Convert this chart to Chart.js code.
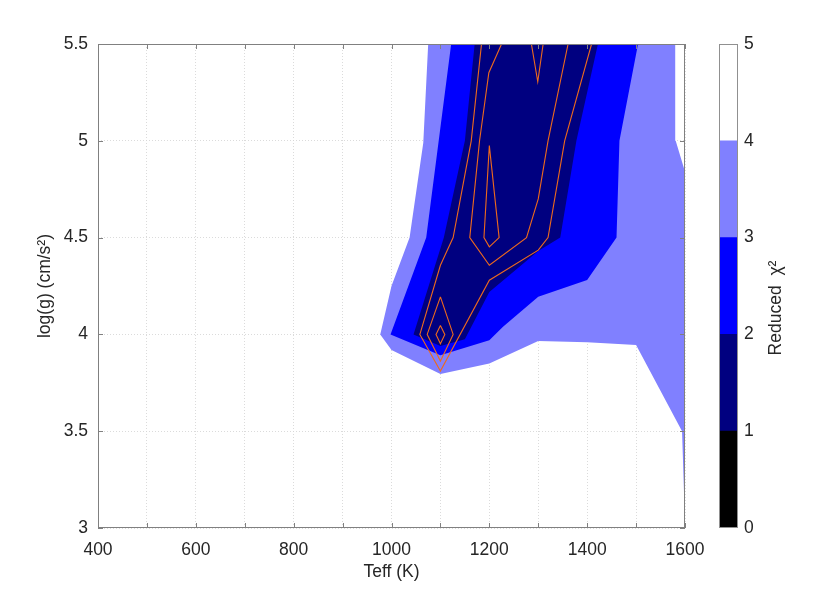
<!DOCTYPE html>
<html>
<head>
<meta charset="utf-8">
<script src="https://cdn.jsdelivr.net/npm/chart.js@4"></script>
<style>
  html, body { margin: 0; padding: 0; background: #fff; }
  #wrap { position: relative; width: 830px; height: 594px; }
  #wrap canvas { position: absolute; left: 0; top: 0; }
</style>
</head>
<body>
<div id="wrap">
  <canvas id="contour" width="830" height="594"></canvas>
  <canvas id="colorbar" width="830" height="594"></canvas>
</div>
<script>
// filled contour regions (Teff, log g)
const chi4T = [1075, 1065, 1037, 1000, 977, 1000, 1100, 1200, 1300, 1400, 1500, 1594, 1600, 1600, 1581, 1580];
const chi4G = [5.5, 4.99, 4.5, 4.25, 4.0, 3.92, 3.795, 3.85, 3.966, 3.959, 3.945, 3.5, 3.02, 4.84, 5.0, 5.5];

const chi3T = [1122, 1071, 998, 1100, 1200, 1228, 1300, 1400, 1460, 1466, 1504];
const chi3G = [5.5, 4.5, 4.0, 3.892, 3.97, 4.04, 4.195, 4.281, 4.5, 5.0, 5.5];

const chi2T = [1170, 1150, 1107, 1045, 1100, 1150, 1200, 1300, 1345, 1378, 1422];
const chi2G = [5.5, 5.0, 4.5, 4.0, 3.94, 3.975, 4.219, 4.431, 4.5, 5.0, 5.5];

// orange contour lines
const line1T = [1184, 1163, 1126, 1100, 1058, 1100, 1200, 1300, 1320, 1354, 1409];
const line1G = [5.5, 5.0, 4.5, 4.357, 4.0, 3.811, 4.28, 4.435, 4.5, 5.0, 5.5];
const line2T = [1225, 1199, 1180, 1160, 1200, 1276, 1300, 1320, 1361];
const line2G = [5.5, 5.352, 5.0, 4.5, 4.357, 4.5, 4.70, 5.0, 5.5];
const line3T = [1200, 1220, 1200, 1189, 1200];
const line3G = [4.975, 4.5, 4.452, 4.5, 4.975];
const line4T = [1286, 1299, 1310];
const line4G = [5.5, 5.305, 5.5];
const line5T = [1100, 1126, 1100, 1073, 1100];
const line5G = [4.194, 4.0, 3.862, 4.0, 4.194];
const line6T = [1100, 1109, 1100, 1091, 1100];
const line6G = [4.046, 4.0, 3.952, 4.0, 4.046];

// colour bar
const cbLevels = [1, 1, 1, 1, 1];
const cbColors = ['#000000', '#000080', '#0000ff', '#8080ff', '#ffffff'];
const cbTicks = [0, 1, 2, 3, 4, 5];

const font = { family: '"Liberation Sans", Arial, sans-serif', size: 17.5 };
const textColor = '#262626';

const pts = (xs, ys) => xs.map((v, i) => ({ x: v, y: ys[i] }));

function region(xs, ys, color, order) {
  return {
    data: pts(xs, ys), showLine: true, borderWidth: 0, pointRadius: 0,
    backgroundColor: color, fill: 'shape', order: order
  };
}
function contour(xs, ys) {
  return {
    data: pts(xs, ys), showLine: true, borderWidth: 1.1, pointRadius: 0,
    borderColor: '#ee6a1c', fill: false, order: 1
  };
}

const frame = {
  id: 'frame',
  afterDraw(chart) {
    const { ctx, chartArea: a } = chart;
    const x = chart.scales.x, y = chart.scales.y;
    ctx.save();
    ctx.strokeStyle = '#808080';
    ctx.lineWidth = 1;
    ctx.strokeRect(a.left + 0.5, a.top + 0.5, a.right - a.left - 1, a.bottom - a.top - 1);
    ctx.beginPath();
    x.ticks.forEach(t => {
      const p = Math.round(x.getPixelForValue(t.value)) + 0.5;
      ctx.moveTo(p, a.bottom); ctx.lineTo(p, a.bottom - 5);
      ctx.moveTo(p, a.top); ctx.lineTo(p, a.top + 5);
    });
    y.ticks.forEach(t => {
      const p = Math.round(y.getPixelForValue(t.value)) + 0.5;
      ctx.moveTo(a.left, p); ctx.lineTo(a.left + 5, p);
      ctx.moveTo(a.right, p); ctx.lineTo(a.right - 5, p);
    });
    ctx.stroke();
    ctx.restore();
  }
};

new Chart(document.getElementById('contour'), {
  type: 'scatter',
  data: {
    datasets: [
      region(chi4T, chi4G, '#8080ff', 4),
      region(chi3T, chi3G, '#0000ff', 3),
      region(chi2T, chi2G, '#000080', 2),
      contour(line1T, line1G),
      contour(line2T, line2G),
      contour(line3T, line3G),
      contour(line4T, line4G),
      contour(line5T, line5G),
      contour(line6T, line6G)
    ]
  },
  options: {
    responsive: false,
    animation: false,
    layout: { padding: { left: 0, top: 44, right: 145, bottom: 0 } },
    plugins: { legend: { display: false }, tooltip: { enabled: false } },
    scales: {
      x: {
        type: 'linear', min: 400, max: 1600, z: 1,
        afterFit: s => { s.height = 66; },
        grid: { color: 'rgba(215,215,215,0.9)', drawTicks: false },
        border: { display: false, dash: [1, 2] },
        ticks: {
          stepSize: 100, autoSkip: false, maxRotation: 0, padding: 12,
          color: textColor, font: font,
          callback: v => (v % 200 === 0 ? String(v) : '')
        },
        title: { display: true, text: 'Teff (K)', color: textColor, font: font, padding: { top: 0, bottom: 11 } }
      },
      y: {
        type: 'linear', min: 3, max: 5.5, z: 1,
        afterFit: s => { s.width = 98; },
        grid: { color: 'rgba(215,215,215,0.9)', drawTicks: false },
        border: { display: false, dash: [1, 2] },
        ticks: { stepSize: 0.5, padding: 10, color: textColor, font: font, callback: v => String(v) },
        title: { display: true, text: 'log(g) (cm/s²)', color: textColor, font: font, padding: { top: 35, bottom: 0 } }
      }
    }
  },
  plugins: [frame]
});

const cbFrame = {
  id: 'cbFrame',
  afterDraw(chart) {
    const { ctx, chartArea: a } = chart;
    ctx.save();
    ctx.strokeStyle = '#909090';
    ctx.lineWidth = 1;
    ctx.strokeRect(a.left + 0.5, a.top + 0.5, a.right - a.left - 1, a.bottom - a.top - 1);
    ctx.translate(a.right + 38, (a.top + a.bottom) / 2 + 22);
    ctx.rotate(-Math.PI / 2);
    ctx.fillStyle = textColor;
    ctx.font = font.size + 'px ' + font.family;
    ctx.textAlign = 'center';
    ctx.textBaseline = 'middle';
    ctx.fillText('Reduced  χ²', 0, 0);
    ctx.restore();
  }
};

new Chart(document.getElementById('colorbar'), {
  type: 'bar',
  data: {
    labels: [''],
    datasets: cbLevels.map((v, i) => ({
      data: [v], backgroundColor: cbColors[i], borderWidth: 0,
      barPercentage: 1, categoryPercentage: 1
    }))
  },
  options: {
    responsive: false,
    animation: false,
    layout: { padding: { left: 719, top: 44, right: 52, bottom: 66 } },
    plugins: { legend: { display: false }, tooltip: { enabled: false } },
    scales: {
      x: { stacked: true, display: false },
      y: {
        stacked: true, position: 'right', min: 0, max: 5,
        afterFit: s => { s.width = 40; },
        afterBuildTicks: s => { s.ticks = cbTicks.map(v => ({ value: v })); },
        grid: { display: false, drawTicks: false },
        border: { display: false },
        ticks: { padding: 6, color: textColor, font: font }
      }
    }
  },
  plugins: [cbFrame]
});
</script>
</body>
</html>
